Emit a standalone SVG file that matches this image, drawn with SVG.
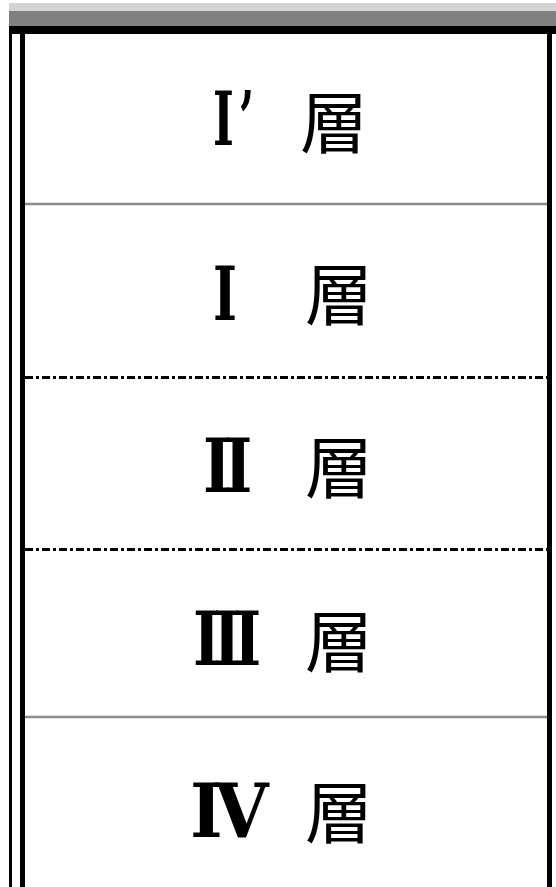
<svg xmlns="http://www.w3.org/2000/svg" width="556" height="887" viewBox="0 0 556 887">
<style>
.kanji{font-family:"Noto Sans CJK JP","Noto Sans CJK SC",sans-serif;font-size:68px;fill:#000}
.num{font-family:"DejaVu Serif","Liberation Serif",serif;font-weight:bold;font-size:74px;fill:#000}
.gray{stroke:#8c8c8c;stroke-width:2.5}
.dd{stroke:#000;stroke-width:3;stroke-dasharray:8 3 3 3}
</style>
<rect x="0" y="0" width="556" height="887" fill="#fff"/>
<g id="frame">
<rect x="9" y="3" width="547" height="8" fill="#d3d3d3"/>
<rect x="9" y="11" width="547" height="15" fill="#808080"/>
<rect x="9" y="26" width="547" height="8" fill="#000"/>
<rect x="9" y="34" width="3" height="853" fill="#000"/>
<rect x="20" y="34" width="5" height="853" fill="#000"/>
<rect x="547" y="34" width="5" height="853" fill="#000"/>
</g>
<g id="connectors">
<line class="gray" x1="25" y1="204" x2="547" y2="204"/>
<line class="dd" x1="25" y1="377.5" x2="547" y2="377.5"/>
<line class="dd" x1="25" y1="549.5" x2="547" y2="549.5"/>
<line class="gray" x1="25" y1="717" x2="547" y2="717"/>
</g>
<g id="layer-i-prime">
<text class="num" x="213" y="145" textLength="46" letter-spacing="8" lengthAdjust="spacingAndGlyphs">I’</text>
<text class="kanji" x="300" y="148">層</text>
</g>
<g id="layer-i">
<text class="num" x="213" y="320" textLength="24" lengthAdjust="spacingAndGlyphs">I</text>
<text class="kanji" x="305" y="320">層</text>
</g>
<g id="layer-ii">
<text class="num" x="203" y="492" textLength="42" letter-spacing="-9" lengthAdjust="spacingAndGlyphs">II</text>
<text class="kanji" x="305" y="493">層</text>
</g>
<g id="layer-iii">
<text class="num" x="193" y="665" textLength="61" letter-spacing="-9" lengthAdjust="spacingAndGlyphs">III</text>
<text class="kanji" x="305" y="667">層</text>
</g>
<g id="layer-iv">
<text class="num" x="190" y="837" textLength="70" letter-spacing="-9" lengthAdjust="spacingAndGlyphs">IV</text>
<text class="kanji" x="305" y="838">層</text>
</g>
</svg>
